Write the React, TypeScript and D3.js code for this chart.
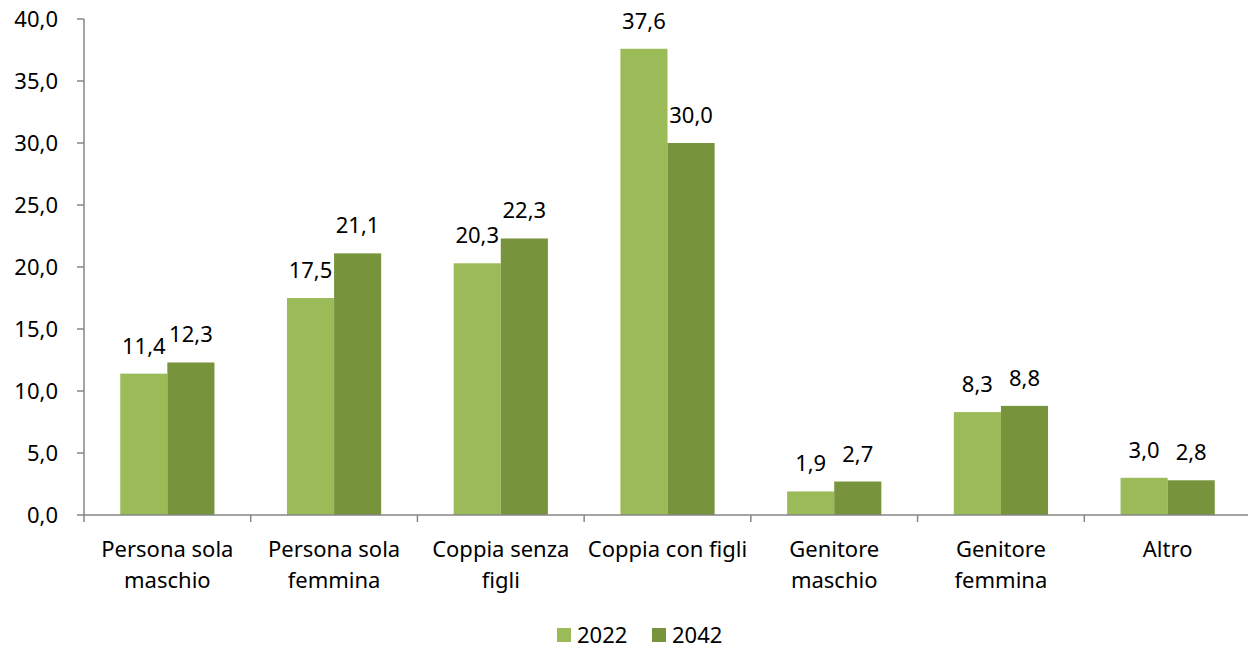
import React, { useEffect, useRef } from 'react';
import * as d3 from 'd3';

const categories = [
  ['Persona sola', 'maschio'],
  ['Persona sola', 'femmina'],
  ['Coppia senza', 'figli'],
  ['Coppia con figli'],
  ['Genitore', 'maschio'],
  ['Genitore', 'femmina'],
  ['Altro'],
];
const years = ['2022', '2042'];
const values2022 = [11.4, 17.5, 20.3, 37.6, 1.9, 8.3, 3.0];
const values2042 = [12.3, 21.1, 22.3, 30.0, 2.7, 8.8, 2.8];
const yTicks = [0, 5, 10, 15, 20, 25, 30, 35, 40];
const colors = ['#9BBB59', '#77933C'];

const App: React.FC = () => {
  const ref = useRef<SVGSVGElement>(null);

  useEffect(() => {
    if (!ref.current) return;
    const svg = d3.select(ref.current);
    svg.selectAll('*').remove();

    const left = 84, right = 1251, top = 19, bottom = 515;
    const font = '"Noto Sans", "Open Sans", sans-serif';
    const fs = 22;

    const x = d3.scaleBand<number>()
      .domain(d3.range(categories.length))
      .range([left, right])
      .paddingInner(0.435)
      .paddingOuter(0.2175);
    const xs = d3.scaleBand<number>().domain([0, 1]).range([0, x.bandwidth()]);
    const y = d3.scaleLinear().domain([0, 40]).range([bottom, top]);

    const fmt = (v: number) => v.toFixed(1).replace('.', ',');
    const series = [values2022, values2042];

    // bars + value labels
    series.forEach((vals, s) => {
      svg.append('g').selectAll('rect').data(vals).join('rect')
        .attr('x', (_, i) => (x(i) as number) + (xs(s) as number))
        .attr('y', d => y(d))
        .attr('width', xs.bandwidth())
        .attr('height', d => bottom - y(d))
        .attr('fill', colors[s]);
      svg.append('g').selectAll('text').data(vals).join('text')
        .attr('x', (_, i) => (x(i) as number) + (xs(s) as number) + xs.bandwidth() / 2)
        .attr('y', d => y(d) - 20)
        .attr('text-anchor', 'middle')
        .attr('font-family', font)
        .attr('font-size', fs)
        .attr('fill', '#000')
        .text(d => fmt(d));
    });

    // y axis
    const axisColor = '#868686';
    svg.append('line')
      .attr('x1', left).attr('x2', left).attr('y1', top).attr('y2', bottom)
      .attr('stroke', axisColor).attr('stroke-width', 1.5);
    const yt = svg.append('g');
    yt.selectAll('line').data(yTicks).join('line')
      .attr('x1', left - 7).attr('x2', left)
      .attr('y1', d => y(d)).attr('y2', d => y(d))
      .attr('stroke', axisColor).attr('stroke-width', 1.5);
    yt.selectAll('text').data(yTicks).join('text')
      .attr('x', 58)
      .attr('y', d => y(d))
      .attr('dy', '0.35em')
      .attr('text-anchor', 'end')
      .attr('font-family', font)
      .attr('font-size', fs)
      .text(d => fmt(d));

    // x axis
    svg.append('line')
      .attr('x1', left).attr('x2', right).attr('y1', bottom).attr('y2', bottom)
      .attr('stroke', axisColor).attr('stroke-width', 1.5);
    const step = x.step();
    svg.append('g').selectAll('line').data(d3.range(categories.length + 1)).join('line')
      .attr('x1', i => left + i * step).attr('x2', i => left + i * step)
      .attr('y1', bottom).attr('y2', bottom + 7)
      .attr('stroke', axisColor).attr('stroke-width', 1.5);

    const cat = svg.append('g').selectAll('text').data(categories).join('text')
      .attr('text-anchor', 'middle')
      .attr('font-family', font)
      .attr('font-size', fs);
    cat.each(function (lines, i) {
      const t = d3.select(this);
      lines.forEach((l, j) => {
        t.append('tspan')
          .attr('x', (x(i) as number) + x.bandwidth() / 2)
          .attr('y', 557 + j * 31)
          .text(l);
      });
    });

    // legend
    const lg = svg.append('g');
    const legendX = [557, 652];
    years.forEach((yr, s) => {
      lg.append('rect')
        .attr('x', legendX[s]).attr('y', 628)
        .attr('width', 14).attr('height', 14)
        .attr('fill', colors[s]);
      lg.append('text')
        .attr('x', legendX[s] + 20).attr('y', 643)
        .attr('font-family', font)
        .attr('font-size', fs)
        .text(yr);
    });
  }, []);

  return (
    <svg ref={ref} width={1248} height={650}
      style={{ position: 'absolute', left: 0, top: 0, background: '#fff' }} />
  );
};

export default App;
